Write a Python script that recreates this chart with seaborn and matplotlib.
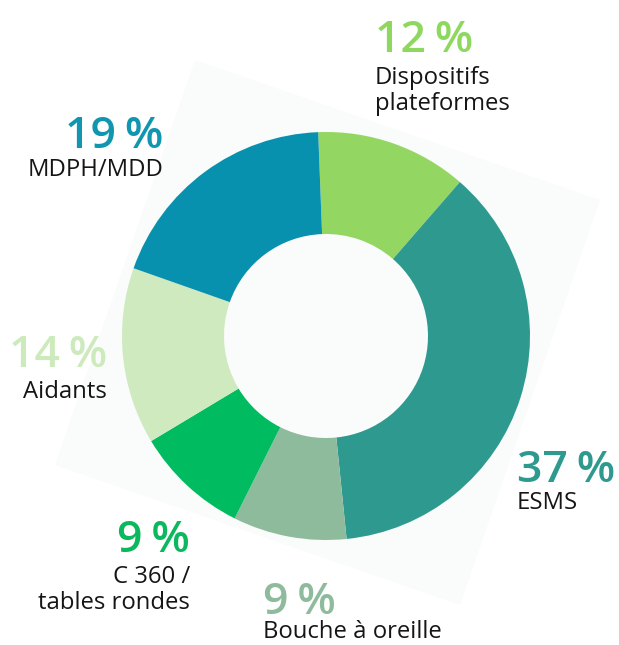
import matplotlib
matplotlib.use("Agg")
import matplotlib.pyplot as plt
from matplotlib.patches import Polygon
import seaborn as sns

# Shares of the six channels, clockwise from the top
categories = ["Dispositifs\nplateformes", "ESMS", "Bouche à oreille",
              "C 360 /\ntables rondes", "Aidants", "MDPH/MDD"]
shares = [12, 37, 9, 9, 14, 19]
slice_colors = ["#93d762", "#2e9a8f", "#8fbb9d", "#00bb5f", "#cfeabf", "#0891ae"]
pct_colors = ["#8fd85f", "#2e9a8f", "#8fbb9d", "#0ab95e", "#cdeabc", "#1196b0"]

sns.set_theme(style="white")
plt.rcParams["font.family"] = ["Open Sans", "DejaVu Sans"]

W, H = 619, 645
fig = plt.figure(figsize=(W / 100, H / 100), dpi=100)
ax = fig.add_axes([0, 0, 1, 1])


def py(y):
    # convert a top-down pixel row to axis units
    return H - y


cx, cy, r_out, r_in = 326, 336, 204, 102
palette = sns.color_palette(slice_colors)
ax.pie(shares, colors=palette, startangle=92.2, counterclock=False,
       center=(cx, py(cy)), radius=r_out, frame=True,
       wedgeprops=dict(width=r_out - r_in, edgecolor="none", zorder=2))
ax.set_xlim(0, W)
ax.set_ylim(0, H)
ax.set_aspect("equal")
ax.axis("off")

# faint tilted backdrop square
corners = [(195, 60), (600, 200), (460, 605), (55, 465)]
ax.add_patch(Polygon([(x, py(y)) for x, y in corners], closed=True,
                     facecolor="#fafbfb", edgecolor="none", zorder=0))

# label anchors: x, percent baseline, first text baseline, alignment
anchors = [
    (375, 52, 84, "left"),
    (517, 482, 509, "left"),
    (263, 614, 638, "left"),
    (190, 552, 583, "right"),
    (107, 367, 398, "right"),
    (163, 148, 176, "right"),
]
line_gap = 26
for cat, val, col, (x, yp, yl, ha) in zip(categories, shares, pct_colors, anchors):
    ax.text(x, py(yp), f"{val}\u2009%", color=col, fontsize=32, fontweight="semibold",
            ha=ha, va="baseline", zorder=3)
    for i, line in enumerate(cat.split("\n")):
        ax.text(x, py(yl + i * line_gap), line, color="#151515", fontsize=17.2,
                ha=ha, va="baseline", zorder=3)

fig.savefig("out.png", dpi=100, facecolor="white")
